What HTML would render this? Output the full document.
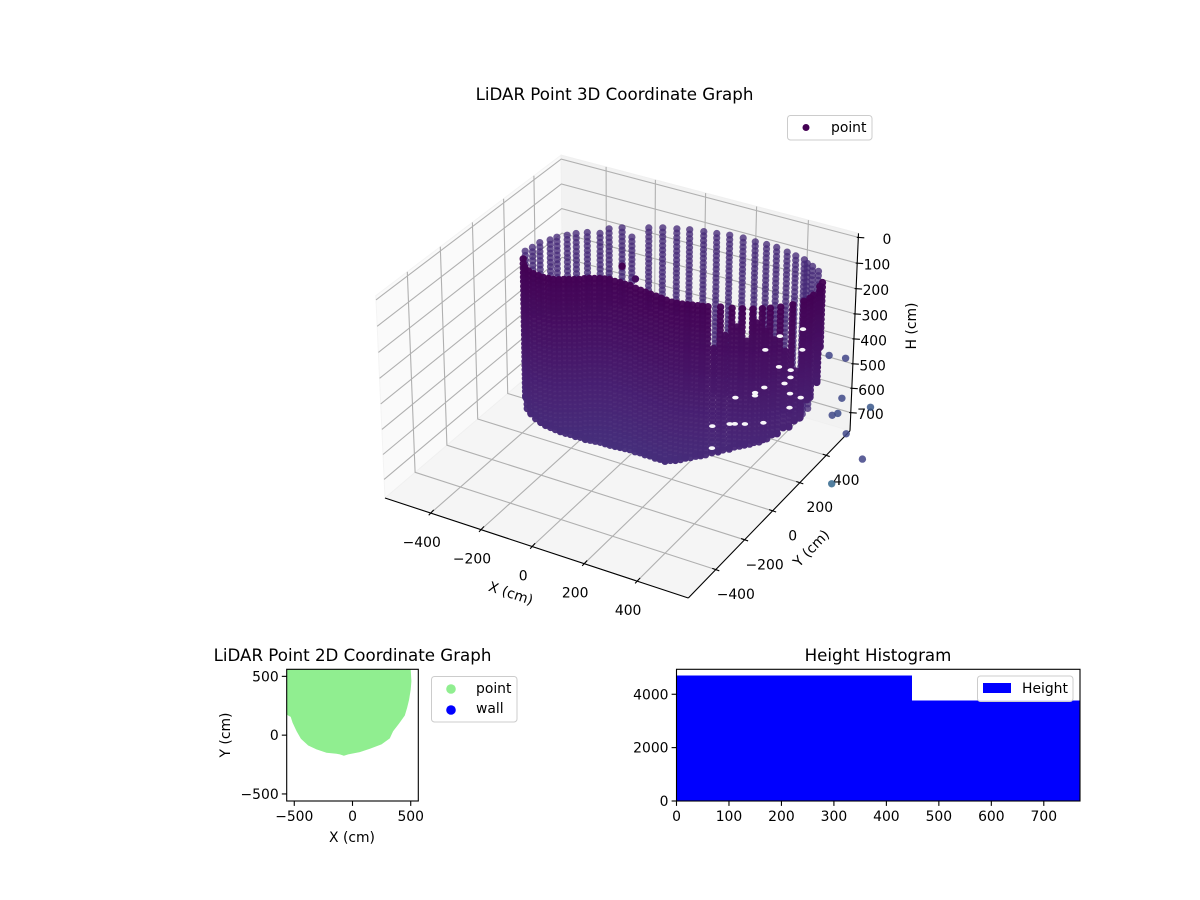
<!DOCTYPE html>
<html lang="en">
<head>
<meta charset="utf-8">
<title>LiDAR Point Graphs</title>
<style>
html,body{margin:0;padding:0;background:#fff;}
svg{display:block;font-family:"DejaVu Sans","Liberation Sans",sans-serif;}
</style>
</head>
<body>
<svg id="figure" xmlns="http://www.w3.org/2000/svg" width="1200" height="900" viewBox="0 0 1200 900">
  <rect x="0" y="0" width="1200" height="900" fill="#ffffff"/>
  <g id="panes"></g>
  <g id="grid3d"></g>
  <g id="axes3d"></g>
  <g id="far-wall"></g>
  <g id="near-wall"></g>
  <g id="gaps"></g>
  <g id="extras"></g>
  <text x="614.5" y="100" text-anchor="middle" font-size="16.67" fill="#000">LiDAR Point 3D Coordinate Graph</text>
  <text x="511" y="598" text-anchor="middle" font-size="13.9" transform="rotate(18.4 511 593)" fill="#000">X (cm)</text>
  <text x="811" y="553" text-anchor="middle" font-size="13.9" transform="rotate(-46 811 548)" fill="#000">Y (cm)</text>
  <text x="911" y="331" text-anchor="middle" font-size="13.9" transform="rotate(-90 911 326)" fill="#000">H (cm)</text>
  <g>
    <rect x="787.5" y="115.5" width="84.5" height="24.5" rx="3" fill="#fff" fill-opacity="0.8" stroke="#cccccc"/>
    <circle cx="806" cy="127.5" r="3.5" fill="#440154"/>
    <text x="831" y="132" font-size="13.9" fill="#000">point</text>
  </g>

  <g id="plot2d"></g>
  <text x="352.5" y="661" text-anchor="middle" font-size="16.67" fill="#000">LiDAR Point 2D Coordinate Graph</text>
  <text x="352" y="842" text-anchor="middle" font-size="13.9" fill="#000">X (cm)</text>
  <text x="230" y="735" text-anchor="middle" font-size="13.9" transform="rotate(-90 230 735)" fill="#000">Y (cm)</text>
  <g>
    <rect x="431.5" y="676.5" width="85.5" height="45.5" rx="3" fill="#fff" fill-opacity="0.8" stroke="#cccccc"/>
    <circle cx="451" cy="689" r="4.8" fill="#90ee90"/>
    <text x="476" y="693" font-size="13.9" fill="#000">point</text>
    <circle cx="451" cy="710" r="4.8" fill="#0000ff"/>
    <text x="476" y="713" font-size="13.9" fill="#000">wall</text>
  </g>

  <g id="plotHist"></g>
  <text x="878" y="661" text-anchor="middle" font-size="16.67" fill="#000">Height Histogram</text>
  <g>
    <rect x="977.5" y="676" width="95.5" height="25.5" rx="3" fill="#fff" fill-opacity="0.8" stroke="#cccccc"/>
    <rect x="983" y="683" width="28" height="10" fill="#0000ff"/>
    <text x="1022" y="693" font-size="13.9" fill="#000">Height</text>
  </g>
</svg>
<script>
/* ---------- 3D axis limits and ticks ---------- */
const xLimits3d = [-585, 590];
const yLimits3d = [-585, 585];
const hLimits3d = [-16, 775];
const xTicks3d = [-400, -200, 0, 200, 400];
const yTicks3d = [-400, -200, 0, 200, 400];
const hTicks3d = [0, 100, 200, 300, 400, 500, 600, 700];

/* ---------- LiDAR rings (cm below the top of the wall) ---------- */
const ringHeights = [0,17,35,52,70,87,104,122,139,157,174,191,209,226,244,261,278,296,313,331,348,365,383,400,418,435,452,470,487,505,522,539,557,574,592,609,626,644,661,679];

/* ---------- far wall scan columns ---------- */
const farX = [-337,-330,-326,-306,-296,-273,-253,-224,-183,-173,-138,-76,-59,-18,27,68,116,161,205,254,302,344,383,429,466,503,524,548,580];
const farY = [-60,-25,16,50,78,107,133,158,174,218,246,205,291,315,333,349,361,371,382,387,384,386,385,373,364,355,336,327,307];
const farBottom = [250,270,280,290,300,310,310,310,300,310,300,190,320,330,340,640,640,640,640,640,640,640,640,640,640,640,600,560,300];

/* ---------- near wall scan columns ---------- */
const nearX = [-331,-297,-272,-248,-226,-205,-187,-169,-154,-140,-125,-110,-96,-84,-70,-55,-40,-24,-8,14,32,53,71,96,117,138,159,181,202,223,245,263,281,297,313,330,346,362,399,435,466,497,522,543,569,596,617,626,617,613,381,415,450,481,508,533,556,582,605,625,630];
const nearY = [-83,-128,-145,-153,-156,-159,-156,-154,-146,-136,-128,-120,-111,-98,-88,-80,-72,-66,-61,-64,-61,-64,-62,-70,-73,-76,-79,-82,-85,-88,-91,-88,-85,-80,-74,-69,-64,-58,-40,-28,-14,0,19,35,58,91,130,182,245,272,-50,-35,-20,-7,9,26,46,76,111,157,222];
const nearTop = [17,17,17,17,17,17,17,17,17,17,17,17,17,17,17,17,17,17,17,17,17,17,17,17,17,17,17,17,17,17,17,17,17,17,17,17,17,17,17,17,17,17,17,17,17,17,17,17,17,17,160,110,80,130,70,100,130,180,270,17,17];
const nearBottom = [562,574,578,586,593,597,601,605,613,621,625,633,637,649,653,657,661,665,669,665,665,661,661,657,653,653,649,649,645,645,633,629,621,613,609,601,597,591,578,562,548,538,532,522,506,489,467,411,388,265,582,568,553,543,533,523,508,488,473,408,373];

/* ---------- gaps where the scan found nothing ---------- */
const gapX = [533,569,617,569,596,582,533,450,617,508,381,435,381,533,596,617,508,596,450,481,596];
const gapY = [26,58,130,58,91,76,26,-20,130,9,-50,-28,-50,26,91,130,9,91,-20,-7,91];
const gapH = [174,127,123,245,267,315,319,359,388,349,476,463,563,457,413,202,338,358,462,460,295];

/* ---------- isolated points ---------- */
const looseX = [-138,79,420,480,590,622,611,702,706,824,803];
const looseY = [246,-41,747,758,508,412,391,504,308,192,5];
const looseH = [150,0,600,600,600,600,600,600,600,600,600];
const looseShade = [0,0.03,0.2,0.2,0.22,0.23,0.22,0.27,0.21,0.2,0.33];

/* ---------- colormap ---------- */
const shadeStops = [0,0.1,0.2,0.3,0.4];
const shadeColors = [[68,1,84],[72,36,117],[65,68,135],[53,95,141],[42,120,142]];
const heightShadeMax = 0.13;
const heightShadeSpan = 650;
const farShade = 0.12;

/* ---------- 2D plot data ---------- */
const xLimits2d = [-565, 565];
const yLimits2d = [-560, 560];
const xTicks2d = [-500, 0, 500];
const yTicks2d = [-500, 0, 500];
const outlineX = [-566,-566,-531,-514,-480,-443,-380,-309,-223,-137,-109,-74,-37,63,149,249,320,349,400,449,469,486,500,506,500];
const outlineY = [560,175,155,105,34,-31,-88,-121,-150,-158,-164,-175,-164,-144,-116,-79,-28,34,99,167,232,302,387,458,560];

/* ---------- histogram data ---------- */
const histEdges = [0, 449, 769];
const histCounts = [4710, 3775];
const histXLimits = [0, 769];
const histYLimits = [0, 4935];
const histXTicks = [0, 100, 200, 300, 400, 500, 600, 700];
const histYTicks = [0, 2000, 4000];

const NS = 'http://www.w3.org/2000/svg';
function make(tag, attrs, parent) {
  const el = document.createElementNS(NS, tag);
  for (const k in attrs) el.setAttribute(k, attrs[k]);
  parent.appendChild(el);
  return el;
}
function minusText(v) { return String(v).replace('-', '\u2212'); }

/* Perspective projection of the 3D axes (elev 30, azim -60, dist 10) */
function project(x, y, h) {
  const qx = (x - (xLimits3d[0] + xLimits3d[1]) / 2) * 1.1429 / (xLimits3d[1] - xLimits3d[0]);
  const qy = (y - (yLimits3d[0] + yLimits3d[1]) / 2) * 1.1429 / (yLimits3d[1] - yLimits3d[0]);
  const qz = 0.372 - (h - hLimits3d[0]) / (hLimits3d[1] - hLimits3d[0]) * 0.744;
  const s = 0.866 * qx + 0.5 * qy;
  const v = -0.25 * qx + 0.433 * qy + 0.866 * qz;
  const w = 0.433 * qx - 0.75 * qy + 0.5 * qz;
  const d = 10 - w;
  return [621.6 + 3033 * s / d, 365.7 - 3101 * v / d];
}
function shadeColor(t) {
  let i = 0;
  while (i < shadeStops.length - 2 && t > shadeStops[i + 1]) i++;
  const f = Math.max(0, Math.min(1, (t - shadeStops[i]) / (shadeStops[i + 1] - shadeStops[i])));
  const a = shadeColors[i], b = shadeColors[i + 1];
  return 'rgb(' + a.map((c, n) => Math.round(c + (b[n] - c) * f)).join(',') + ')';
}
function heightShade(h) { return Math.max(0, h) / heightShadeSpan * heightShadeMax; }
function pts(list) { return list.map(p => p[0].toFixed(1) + ',' + p[1].toFixed(1)).join(' '); }

const [x0, x1] = xLimits3d, [y0, y1] = yLimits3d, [hTop, hBot] = hLimits3d;

/* panes */
const panesG = document.getElementById('panes');
const paneLeft = make('polygon', {points: pts([project(x0,y0,hTop),project(x0,y1,hTop),project(x0,y1,hBot),project(x0,y0,hBot)]), fill:'#fafafa', stroke:'#f4f4f4', 'stroke-width':1}, panesG);


const paneBack = make('polygon', {points: pts([project(x0,y1,hTop),project(x1,y1,hTop),project(x1,y1,hBot),project(x0,y1,hBot)]), fill:'#f2f2f2', stroke:'#f0f0f0', 'stroke-width':1}, panesG);


const paneFloor = make('polygon', {points: pts([project(x0,y0,hBot),project(x1,y0,hBot),project(x1,y1,hBot),project(x0,y1,hBot)]), fill:'#f5f5f5', stroke:'#f0f0f0', 'stroke-width':1}, panesG);



/* grid lines */
const gridG = document.getElementById('grid3d');
const gridStyle = {fill:'none', stroke:'#b0b0b0', 'stroke-width':1.1};
xTicks3d.forEach(t => {
  const l = make('polyline', Object.assign({points: pts([project(t,y0,hBot),project(t,y1,hBot),project(t,y1,hTop)])}, gridStyle), gridG);
  
  
});
yTicks3d.forEach(t => {
  const l = make('polyline', Object.assign({points: pts([project(x1,t,hBot),project(x0,t,hBot),project(x0,t,hTop)])}, gridStyle), gridG);
  
  
});
hTicks3d.forEach(t => {
  const l = make('polyline', Object.assign({points: pts([project(x0,y0,t),project(x0,y1,t),project(x1,y1,t)])}, gridStyle), gridG);
  
  
});

/* axis lines, ticks and tick labels */
const axesG = document.getElementById('axes3d');
const axisX = make('polyline', {points: pts([project(x0,y0,hBot),project(x1,y0,hBot)]), stroke:'#000', 'stroke-width':1.1, fill:'none'}, axesG);


const axisY = make('polyline', {points: pts([project(x1,y0,hBot),project(x1,y1,hBot)]), stroke:'#000', 'stroke-width':1.1, fill:'none'}, axesG);


const axisH = make('polyline', {points: pts([project(x1,y1,hBot),project(x1,y1,hTop)]), stroke:'#000', 'stroke-width':1.1, fill:'none'}, axesG);



xTicks3d.forEach(t => {
  const p = project(t, y0, hBot);
  const tk = make('line', {x1:p[0]-2, y1:p[1]+2.2, x2:p[0]+3, y2:p[1]-3.2, stroke:'#000', 'stroke-width':1.1}, axesG);
  
  
  const lb = make('text', {x:p[0]-9, y:p[1]+34, 'text-anchor':'middle', 'font-size':13.9, fill:'#000'}, axesG);
  lb.textContent = minusText(t);
  
  
});
yTicks3d.forEach(t => {
  const p = project(x1, t, hBot);
  const tk = make('line', {x1:p[0]-3.5, y1:p[1]-1.2, x2:p[0]+3.5, y2:p[1]+1.2, stroke:'#000', 'stroke-width':1.1}, axesG);
  
  
  const lb = make('text', {x:p[0]+20, y:p[1]+29.5, 'text-anchor':'middle', 'font-size':13.9, fill:'#000'}, axesG);
  lb.textContent = minusText(t);
  
  
});
hTicks3d.forEach(t => {
  const p = project(x1, y1, t);
  const tk = make('line', {x1:p[0]-1.5, y1:p[1]-0.1, x2:p[0]+6, y2:p[1]+0.4, stroke:'#000', 'stroke-width':1.1}, axesG);
  
  
  const lb = make('text', {x:p[0]+33, y:p[1]+6.5, 'text-anchor':'end', 'font-size':13.9, fill:'#000'}, axesG);
  lb.textContent = String(t);
  
  
});

/* far wall */
const farG = document.getElementById('far-wall');
farX.forEach((x, i) => {
  ringHeights.forEach(h => {
    if (h > farBottom[i]) return;
    const p = project(x, farY[i], h);
    const c = make('circle', {cx:p[0].toFixed(1), cy:p[1].toFixed(1), r:3.6, fill:shadeColor(farShade), 'fill-opacity':0.78}, farG);
    
    
  });
});

/* near wall */
const nearG = document.getElementById('near-wall');
nearX.forEach((x, i) => {
  const heights = ringHeights.filter(h => h >= nearTop[i] && h < nearBottom[i]).concat([nearBottom[i]]);
  heights.forEach(h => {
    const p = project(x, nearY[i], h);
    const c = make('circle', {cx:p[0].toFixed(1), cy:p[1].toFixed(1), r:3.7, fill:shadeColor(heightShade(h)), 'fill-opacity':0.96}, nearG);
    
    
  });
});

/* gaps in coverage */
const gapsG = document.getElementById('gaps');
gapX.forEach((x, i) => {
  const p = project(x, gapY[i], gapH[i]);
  const g = make('ellipse', {cx:p[0].toFixed(1), cy:p[1].toFixed(1), rx:3.2, ry:1.9, fill:'#f8f7fa'}, gapsG);
  
  
});

/* isolated points */
const looseG = document.getElementById('extras');
looseX.forEach((x, i) => {
  const p = project(x, looseY[i], looseH[i]);
  const c = make('circle', {cx:p[0].toFixed(1), cy:p[1].toFixed(1), r:3.7, fill:shadeColor(looseShade[i]), 'fill-opacity':i < 2 ? 1 : 0.85}, looseG);
  
  
});

/* ---------- 2D plot ---------- */
const box2d = {left:286.7, right:418.3, top:669.3, bottom:801};
function sx2d(v) { return box2d.left + (v - xLimits2d[0]) / (xLimits2d[1] - xLimits2d[0]) * (box2d.right - box2d.left); }
function sy2d(v) { return box2d.bottom - (v - yLimits2d[0]) / (yLimits2d[1] - yLimits2d[0]) * (box2d.bottom - box2d.top); }
const plot2d = document.getElementById('plot2d');
const clip2d = make('clipPath', {id:'clip-2d'}, plot2d);
make('rect', {x:box2d.left, y:box2d.top, width:box2d.right-box2d.left, height:box2d.bottom-box2d.top}, clip2d);
const scatter = make('polygon', {points: pts(outlineX.map((x, i) => [sx2d(x), sy2d(outlineY[i])])), fill:'#90ee90', 'clip-path':'url(#clip-2d)'}, plot2d);


const frame2d = make('rect', {x:box2d.left, y:box2d.top, width:box2d.right-box2d.left, height:box2d.bottom-box2d.top, fill:'none', stroke:'#000', 'stroke-width':1.1}, plot2d);


xTicks2d.forEach(t => {
  const px = sx2d(t);
  const tk = make('line', {x1:px, y1:box2d.bottom, x2:px, y2:box2d.bottom+4.9, stroke:'#000', 'stroke-width':1.1}, plot2d);
  
  
  const lb = make('text', {x:px, y:821, 'text-anchor':'middle', 'font-size':13.9, fill:'#000'}, plot2d);
  lb.textContent = minusText(t);
  
  
});
yTicks2d.forEach(t => {
  const py = sy2d(t);
  const tk = make('line', {x1:box2d.left, y1:py, x2:box2d.left-4.9, y2:py, stroke:'#000', 'stroke-width':1.1}, plot2d);
  
  
  const lb = make('text', {x:box2d.left-8, y:py+5, 'text-anchor':'end', 'font-size':13.9, fill:'#000'}, plot2d);
  lb.textContent = minusText(t);
  
  
});

/* ---------- histogram ---------- */
const boxH = {left:676.5, right:1080, top:669.3, bottom:801};
function sxH(v) { return boxH.left + (v - histXLimits[0]) / (histXLimits[1] - histXLimits[0]) * (boxH.right - boxH.left); }
function syH(v) { return boxH.bottom - (v - histYLimits[0]) / (histYLimits[1] - histYLimits[0]) * (boxH.bottom - boxH.top); }
const plotH = document.getElementById('plotHist');
histCounts.forEach((c, i) => {
  const b = make('rect', {x:sxH(histEdges[i]), y:syH(c), width:sxH(histEdges[i+1])-sxH(histEdges[i]), height:boxH.bottom-syH(c), fill:'#0000ff', 'shape-rendering':'crispEdges'}, plotH);
  
  
});
const frameH = make('rect', {x:boxH.left, y:boxH.top, width:boxH.right-boxH.left, height:boxH.bottom-boxH.top, fill:'none', stroke:'#000', 'stroke-width':1.1}, plotH);


histXTicks.forEach(t => {
  const px = sxH(t);
  const tk = make('line', {x1:px, y1:boxH.bottom, x2:px, y2:boxH.bottom+4.9, stroke:'#000', 'stroke-width':1.1}, plotH);
  
  
  const lb = make('text', {x:px, y:821, 'text-anchor':'middle', 'font-size':13.9, fill:'#000'}, plotH);
  lb.textContent = String(t);
  
  
});
histYTicks.forEach(t => {
  const py = syH(t);
  const tk = make('line', {x1:boxH.left, y1:py, x2:boxH.left-4.9, y2:py, stroke:'#000', 'stroke-width':1.1}, plotH);
  
  
  const lb = make('text', {x:boxH.left-8, y:py+5, 'text-anchor':'end', 'font-size':13.9, fill:'#000'}, plotH);
  lb.textContent = String(t);
  
  
});
</script>
</body>
</html>
